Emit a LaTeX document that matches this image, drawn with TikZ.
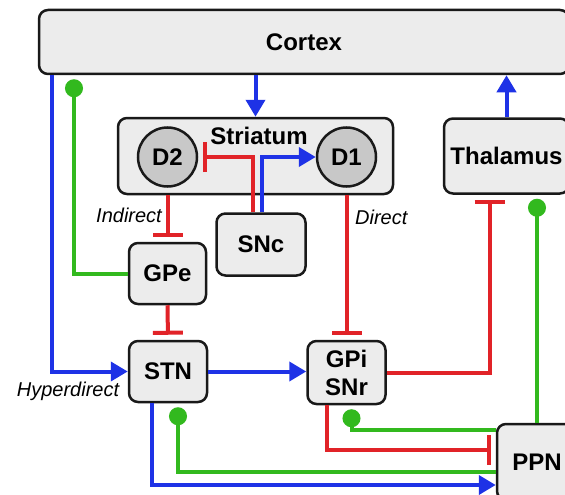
\documentclass[tikz,border=0pt]{standalone}
\usepackage{fontspec}
\setmainfont{Liberation Sans}
\usetikzlibrary{arrows.meta}
\definecolor{exc}{RGB}{30,50,230}
\definecolor{inh}{RGB}{225,35,40}
\definecolor{mod}{RGB}{50,185,30}
\definecolor{boxfill}{RGB}{236,236,236}
\definecolor{cellfill}{RGB}{200,200,200}
\begin{document}
\begin{tikzpicture}[x=1pt,y=-1pt,
  region/.style={draw=black!90,line width=2.5pt,fill=boxfill,rounded corners=9pt,
    inner sep=0pt,font=\fontsize{24}{28}\selectfont\bfseries,align=center},
  cell/.style={circle,draw=black!90,line width=2.5pt,fill=cellfill,inner sep=0pt,
    minimum size=59pt,font=\fontsize{24}{28}\selectfont\bfseries},
  title/.style={font=\fontsize{24}{28}\selectfont\bfseries,inner sep=0pt},
  excite/.style={exc,line width=4pt,-{Triangle[length=17pt,width=19pt]}},
  inhibit/.style={inh,line width=4pt,-{Bar[width=30pt]},shorten >=5pt},
  modulate/.style={mod,line width=4pt,-{Circle[length=18pt,width=18pt]},shorten >=4pt},
  pathlabel/.style={font=\fontsize{20}{24}\selectfont\itshape,inner sep=0pt}
]
\useasboundingbox (0,0) rectangle (565,495);
\clip (0,0) rectangle (565,495);

% regions
\node[region,minimum width=530pt,minimum height=64pt] (cortex) at (304,42) {Cortex};
\node[region,minimum width=275pt,minimum height=76pt] (striatum) at (255.5,156) {};
\node[title] (striatumlabel) at (259,136) {Striatum};
\node[cell] (d2) at (167.5,157) {D2};
\node[cell] (d1) at (346.5,157) {D1};
\node[region,minimum width=89pt,minimum height=62pt] (snc) at (261,244.5) {SNc};
\node[region,minimum width=77pt,minimum height=61pt] (gpe) at (167.5,273.5) {GPe};
\node[region,minimum width=78pt,minimum height=61pt] (stn) at (168,371.5) {STN};
\node[region,minimum width=78pt,minimum height=63pt] (gpi) at (346.5,372.5) {GPi\\SNr};
\node[region,minimum width=125pt,minimum height=75pt] (thal) at (506.5,156) {Thalamus};
\node[region,minimum width=80pt,minimum height=76pt] (ppn) at (537,462) {PPN};

% vertical tracks of the long cortical loops
\coordinate (hx) at (52,0);
\coordinate (gx) at (74,0);

% cortical input and thalamic output
\draw[excite] (cortex.south -| striatum.north) -- (striatum.north);
\draw[excite] (thal.north) -- (cortex.south -| thal.north);
\draw[excite] (hx |- cortex.south) |- (stn.west);
\draw[modulate] (gpe.west) -| (gx |- cortex.south);

% dopaminergic input
\draw[inhibit] ([xshift=-8pt]snc.north) |- (d2.east);
\draw[excite] ([xshift=1pt]snc.north) |- (d1.west);

% indirect, direct and hyperdirect pathways
\draw[inhibit] (striatum.south -| d2) -- (gpe.north);
\draw[inhibit] (gpe.south) -- (stn.north);
\draw[inhibit] (striatum.south -| d1) -- (gpi.north);
\draw[excite] (stn.east) -- (gpi.west |- stn.east);
\draw[inhibit] (gpi.east) -| ([xshift=-17pt]thal.south);

% PPN loops
\draw[modulate] (ppn.north) -- (thal.south -| ppn.north);
\draw[modulate] ([yshift=32pt]ppn.west) -| ([xshift=5pt]gpi.south);
\draw[inhibit] ([xshift=-20pt]gpi.south) |- ([yshift=12pt]ppn.west);
\draw[modulate] ([yshift=-10pt]ppn.west) -| ([xshift=10pt]stn.south);
\draw[excite] ([xshift=-16pt]stn.south) |- ([yshift=-23pt]ppn.west);

% pathway names
\node[pathlabel,anchor=east] (indirectlabel) at (162,215) {Indirect};
\node[pathlabel,anchor=west] (directlabel) at (355,217) {Direct};
\node[pathlabel] (hyperlabel) at (68,391) {Hyperdirect};
\end{tikzpicture}
\end{document}
